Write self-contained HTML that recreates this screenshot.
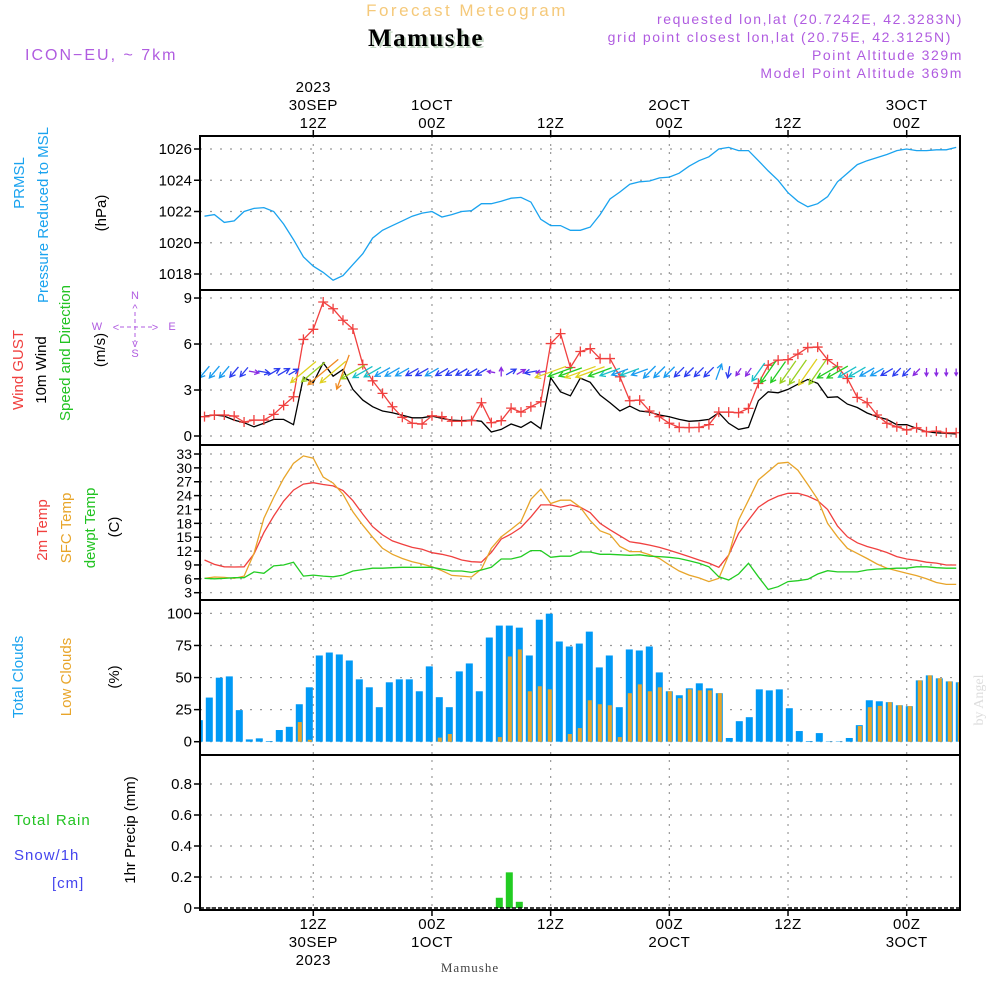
<!DOCTYPE html>
<html><head><meta charset="utf-8">
<style>
html,body{margin:0;padding:0;background:#fff;}
svg{display:block;font-family:"Liberation Sans",sans-serif;}
</style></head>
<body>
<svg id="chart" width="1000" height="1000" viewBox="0 0 1000 1000" xmlns="http://www.w3.org/2000/svg">
<rect width="1000" height="1000" fill="#fff"/>
<text x="467" y="16" text-anchor="middle" font-size="17" fill="#f5c97a" letter-spacing="2.5">Forecast Meteogram</text>
<text x="428" y="48" text-anchor="middle" font-size="25" font-weight="bold" font-family="Liberation Serif,serif" fill="#c5d8c5" letter-spacing="1.5">Mamushe</text>
<text x="426" y="46" text-anchor="middle" font-size="25" font-weight="bold" font-family="Liberation Serif,serif" fill="#000" letter-spacing="1.5">Mamushe</text>
<text x="25" y="60" font-size="16" fill="#b05ce0" letter-spacing="2">ICON−EU, ~ 7km</text>
<g font-size="14" fill="#b05ce0" text-anchor="end" letter-spacing="1.6">
<text x="963" y="24">requested lon,lat (20.7242E, 42.3283N)</text>
<text x="952" y="42">grid point closest lon,lat (20.75E, 42.3125N)</text>
<text x="963" y="60">Point Altitude 329m</text>
<text x="963" y="78">Model Point Altitude 369m</text>
</g>
<text transform="translate(983,700) rotate(-90)" text-anchor="middle" font-size="14" font-family="Liberation Serif,serif" fill="#ddd">by Angel</text>
<g id="labels" font-size="15"></g>
<g id="grid"></g>
<g id="marks"></g>
<g id="frame"></g>
</svg>
<script>
// ---- data (hourly, h = 1..77 hours after 00Z 30 SEP 2023) ----
const hours = Array.from({length:77},(_,i)=>i+1);
const pressure = [1021.7,1021.8,1021.3,1021.4,1022.0,1022.2,1022.25,1022.0,1021.2,1020.2,1019.1,1018.5,1018.1,1017.6,1017.9,1018.6,1019.3,1020.3,1020.8,1021.1,1021.4,1021.7,1021.9,1022.0,1021.65,1021.8,1022.0,1022.05,1022.5,1022.5,1022.65,1022.85,1022.9,1022.6,1021.5,1021.1,1021.1,1020.8,1020.8,1021.0,1021.8,1022.8,1023.25,1023.75,1023.9,1023.95,1024.15,1024.2,1024.45,1024.9,1025.25,1025.5,1026.0,1026.1,1025.9,1025.9,1025.25,1024.6,1024.0,1023.2,1022.65,1022.3,1022.5,1022.95,1023.9,1024.45,1025.0,1025.25,1025.45,1025.65,1025.9,1026.0,1025.9,1025.9,1025.95,1025.95,1026.1];
const gust = [1.26,1.37,1.37,1.3,0.91,1.04,1.04,1.41,2.0,2.56,6.3,6.96,8.74,8.3,7.55,6.98,4.66,3.6,2.78,1.91,1.22,0.83,0.78,1.32,1.26,0.96,0.96,1.0,2.17,0.87,1.0,1.82,1.56,1.91,2.23,6.03,6.68,4.47,5.51,5.7,5.05,5.05,3.86,2.3,2.34,1.63,1.26,0.83,0.56,0.55,0.56,0.74,1.56,1.56,1.52,1.8,3.43,4.62,4.95,4.98,5.34,5.77,5.8,4.98,4.51,3.75,2.52,2.17,1.37,0.83,0.6,0.39,0.54,0.28,0.32,0.21,0.21];
const wind10m = [1.3,1.37,1.3,1.04,0.87,0.6,0.83,1.08,1.08,0.74,3.82,3.49,4.77,3.9,4.34,3.04,2.34,1.91,1.63,1.52,1.35,1.19,1.19,1.3,1.15,1.04,1.0,1.04,0.96,0.26,0.43,0.78,0.56,0.93,0.48,3.8,2.88,2.62,3.78,3.5,2.67,2.17,1.63,1.95,1.63,1.56,1.37,1.26,1.08,0.96,1.0,1.08,1.52,0.83,0.43,0.56,2.3,2.88,2.82,3.04,3.38,3.69,3.43,2.52,2.56,2.08,1.86,1.5,1.26,1.08,0.74,0.74,0.5,0.28,0.21,0.17,0.13];
const windDir = [40,40,40,40,40,280,280,240,240,240,50,50,50,50,20,60,60,60,60,60,60,60,60,60,60,60,60,60,60,100,180,240,240,80,80,70,70,70,70,70,70,70,70,70,70,45,45,45,45,45,45,45,200,10,35,35,35,35,35,35,35,35,35,60,60,60,60,60,60,60,45,45,45,0,0,0,0];
const temp2m = [10.07,9.13,8.6,8.56,8.6,11.4,16,19.6,22.8,25.2,26.5,26.8,26.4,26.1,25.1,22.9,20,17.3,15.5,14.2,13.5,12.8,12.4,11.65,11.3,10.8,10.07,9.7,9.6,11.7,14.6,15.7,17.1,19.4,22,22,21.5,22,21.5,20.3,18,16.6,15.3,14.0,13.7,13.3,12.8,12.2,11.5,10.8,10.07,9.4,8.5,11.15,15.85,18.7,21.5,22.9,23.9,24.5,24.5,23.9,22.9,21.0,17.4,15.1,13.8,13.0,12.4,11.7,10.8,10.3,10.0,9.6,9.4,9.0,9.0];
const tempSfc = [6.1,6.4,6.3,6.1,6.6,11.5,19.1,23.6,27.7,31,32.6,32.1,28,26.7,24.3,20.5,17.6,15,12.6,11.3,10.4,9.7,9.2,8.6,7.75,6.75,6.6,6.4,8.1,12.6,15.1,16.7,18.4,23.2,25.4,22.3,23,23,21.5,18.6,16.4,15.6,13,11.9,11.9,11.2,10.4,9,7.7,6.8,6.2,5.4,6.1,11.15,18.7,23,27.4,29.2,31,31.2,29.5,26.4,23.2,18,15.1,12.6,11.5,10.4,9.2,8.3,7.75,7.2,6.7,6.0,5.2,4.8,4.8];
const dewpt = [6.1,6.0,6.1,6.25,6.25,7.5,7.2,8.8,9,9.6,6.6,6.8,6.6,6.45,6.8,7.7,8,8.3,8.3,8.4,8.5,8.5,8.5,8.5,8.1,7.7,7.7,7.4,7.9,8.5,10.3,10.3,10.8,12.1,12.1,10.65,10.9,10.9,11.8,11.8,11.3,11.3,11.2,11.1,11.2,10.9,10.8,10.65,10.4,9.9,9.35,8.6,6.45,5.75,7.05,9.35,6.45,3.7,4.3,5.4,5.6,5.9,7.05,7.75,7.5,7.5,7.5,7.9,8.1,8.2,8.3,8.3,8.6,8.6,8.4,8.3,8.3];
const totalClouds = [16.8,34.4,49.9,50.9,24.6,1.8,2.6,0.5,9.1,11.6,29.2,42.4,67.2,69.5,68,63.3,48.6,42.4,26.9,46.3,48.6,48.6,39.3,58.7,34.7,26.9,54.8,61,39.3,81.2,90.5,90.5,88.9,67.2,95.1,99.8,78.1,74.2,76.5,85.8,57.9,67.2,26.9,71.9,71.1,74.2,54,39.3,36.2,41.6,45.5,41.6,37.8,2.9,16,19.1,40.8,40,40.8,26.1,8.3,0.5,6.7,0.3,0.3,2.9,12.9,32.3,31.5,30.8,28.4,27.7,47.8,51.7,49.4,47,46.3];
const lowClouds = [0,0,0,0,0,0,0,0,0,0,15.3,1.5,0,0,0,0,0,0,0,0,0,0,0,0,3.2,6,0,0,0,0,3.6,66.4,71.9,39.3,43.2,40.8,0,6,10.6,32.3,29.2,28.4,3.6,37.8,44.7,39.3,42.4,39.3,33.9,40.8,40,40,37.8,0,0,0,0,0,0,0,0,0,0,0,0,0,12.2,26.9,27.9,30.8,28.4,27.7,47.8,51.7,49.4,47,46.3];
const precip = [0,0,0,0,0,0,0,0,0,0,0,0,0,0,0,0,0,0,0,0,0,0,0,0,0,0,0,0,0,0,0.066,0.23,0.04,0,0,0,0,0,0,0,0,0,0,0,0,0,0,0,0,0,0,0,0,0,0,0,0,0,0,0,0,0,0,0,0,0,0,0,0,0,0,0,0,0,0,0,0];
const timeTicks = [12,24,36,48,60,72];
const topLabels = [["2023","30SEP","12Z"],["","1OCT","00Z"],["","","12Z"],["","2OCT","00Z"],["","","12Z"],["","3OCT","00Z"]];
const bottomLabels = [["12Z","30SEP","2023"],["00Z","1OCT",""],["12Z","",""],["00Z","2OCT",""],["12Z","",""],["00Z","3OCT",""]];
const pTicks=[1018,1020,1022,1024,1026], wTicks=[0,3,6,9], tTicks=[3,6,9,12,15,18,21,24,27,30,33], cTicks=[0,25,50,75,100], rTicks=[0,0.2,0.4,0.6,0.8];
const rTickLabels=["0","0.2","0.4","0.6","0.8"];

// ---- scales ----
const L=200,R=960;
const x = h => 313.3 + (h-12)*9.89;
const xb = i => 199.3 + i*10;  // cloud/precip band centre for hour index
const yP = p => 149 + (1026-p)*15.625;
const yW = v => 436 - v*15.33;
const yT = t => 592.7 - (t-3)*4.623;
const yC = c => 741.7 - c*1.283;
const yR = r => 908 - r*155;
const panels=[[136,290],[290,445],[445,600],[600,755],[755,910]];

const NS="http://www.w3.org/2000/svg";
function mk(tag,parent,attrs){const e=document.createElementNS(NS,tag);for(const k in attrs)e.setAttribute(k,attrs[k]);parent.appendChild(e);return e;}
const G=document.getElementById('grid'),M=document.getElementById('marks'),F=document.getElementById('frame'),LB=document.getElementById('labels');

// clip
const defs=mk('defs',document.getElementById('chart'),{});
const cp=mk('clipPath',defs,{id:'plotclip'});
mk('rect',cp,{x:L,y:136,width:R-L,height:774});
M.setAttribute('clip-path','url(#plotclip)');

// vertical time grid
timeTicks.forEach(h=>{
  const l=mk('line',G,{x1:x(h),x2:x(h),y1:136,y2:910,stroke:'#999','stroke-dasharray':'2 6','stroke-width':1.2});
  
  
});
// y axes
function yaxis(ticks,scale,labels,name,dense){
  ticks.forEach((t,i)=>{
    const y=scale(t);
    const gl=mk('line',G,{x1:L,x2:R,y1:y,y2:y,stroke:'#999','stroke-dasharray':'2 8','stroke-width':1.2});
    
    
    mk('line',F,{x1:L-6,x2:L,y1:y,y2:y,stroke:'#000','stroke-width':1.5});
    const tx=mk('text',LB,{x:L-8,y:y+5,'text-anchor':'end','font-size':dense?14:15,fill:'#000'});
    tx.textContent=labels?labels[i]:String(t);
    
    
  });
}
yaxis(pTicks,yP,null,'pressure-axis');
yaxis(wTicks,yW,null,'wind-axis');
yaxis(tTicks,yT,null,'temp-axis',true);
yaxis(cTicks,yC,null,'cloud-axis');
yaxis(rTicks,yR,rTickLabels,'precip-axis');

// time labels
timeTicks.forEach((h,i)=>{
  mk('line',F,{x1:x(h),x2:x(h),y1:130,y2:136,stroke:'#000','stroke-width':1.5});
  mk('line',F,{x1:x(h),x2:x(h),y1:910,y2:916,stroke:'#000','stroke-width':1.5});
  topLabels[i].forEach((s,j)=>{ if(!s)return;
    const t=mk('text',LB,{x:x(h),y:92+j*18,'text-anchor':'middle',fill:'#000','letter-spacing':'0.5'});t.textContent=s;
    
    
  });
  bottomLabels[i].forEach((s,j)=>{ if(!s)return;
    const t=mk('text',LB,{x:x(h),y:929+j*18,'text-anchor':'middle',fill:'#000','letter-spacing':'0.5'});t.textContent=s;
    
    
  });
});
const bl=mk('text',LB,{x:470,y:972,'text-anchor':'middle','font-size':13,'font-family':'Liberation Serif,serif',fill:'#444','letter-spacing':'1'});bl.textContent='Mamushe';



// rotated axis titles
function vlabel(txt,cx,cy,color,name,size){
  const t=mk('text',LB,{transform:`translate(${cx},${cy}) rotate(-90)`,'text-anchor':'middle',fill:color,'font-size':size||15});
  t.textContent=txt;
  
  
}
vlabel('PRMSL',24,183,'#1aa3ef','prmsl-label');
vlabel('Pressure Reduced to MSL',48,215,'#1aa3ef','pressure-title');
vlabel('(hPa)',106,213,'#000','pressure-unit');
vlabel('Wind GUST',23,370,'#f0403f','gust-label');
vlabel('10m Wind',46,370,'#000','wind10m-label');
vlabel('Speed and Direction',70,353,'#22c322','wind-direction-label');
vlabel('(m/s)',105,350,'#000','wind-unit');
vlabel('2m Temp',47,530,'#f0403f','temp2m-label');
vlabel('SFC Temp',71,528,'#e8a52a','sfctemp-label');
vlabel('dewpt Temp',95,528,'#22c322','dewpt-label');
vlabel('(C)',119,527,'#000','temp-unit');
vlabel('Total Clouds',23,677,'#1aa3ef','total-clouds-label');
vlabel('Low Clouds',71,677,'#e8a52a','low-clouds-label');
vlabel('(%)',119,677,'#000','cloud-unit');
vlabel('1hr Precip (mm)',135,830,'#000','precip-title');
[['Total  Rain',14,825,'#22c322'],['Snow/1h',14,860,'#4444ee'],['[cm]',52,888,'#4444ee']].forEach(a=>{
  const t=mk('text',LB,{x:a[1],y:a[2],fill:a[3],'xml:space':'preserve','letter-spacing':'1'});t.textContent=a[0];
  
  
});
// compass
const cg=mk('g',LB,{fill:'#b05ce0','font-size':11,'text-anchor':'middle'});


[['N',135,299],['S',135,357],['W',97,330],['E',172,330],['^',135,312],['v',135,347],['<',116,331],['>',155,331]].forEach(a=>{const t=mk('text',cg,{x:a[1],y:a[2]});t.textContent=a[0];});
mk('line',cg,{x1:120,x2:152,y1:327,y2:327,stroke:'#b05ce0','stroke-dasharray':'4 3'});
mk('line',cg,{x1:135,x2:135,y1:312,y2:342,stroke:'#b05ce0','stroke-dasharray':'4 3'});

// series lines
function line(vals,scale,color,name,w){
  const d=vals.map((v,i)=>(i?'L':'M')+x(hours[i]).toFixed(1)+','+scale(v).toFixed(1)).join('');
  const p=mk('path',M,{d:d,fill:'none',stroke:color,'stroke-width':w||1.3});
  
  
  return p;
}
line(pressure,yP,'#1aa3ef','pressure-line');
line(wind10m,yW,'#000','wind10m-line');
line(gust,yW,'#f0403f','gust-line');
gust.forEach((v,i)=>{
  const cx=x(hours[i]),cy=yW(v);
  const g=mk('path',M,{d:`M${cx-5},${cy}h10M${cx},${cy-5}v10`,stroke:'#f0403f','stroke-width':1.3});
  
  
});
// wind arrows
function arrowColor(s){return s<0.7?'#8a2be2':s<1.2?'#2b3cf0':s<1.8?'#1a9cf0':s<2.5?'#19c0c8':s<3.0?'#22cc22':s<3.5?'#9ad020':s<4.0?'#e0d020':'#f08a20';}
windDir.forEach((d,i)=>{
  const s=wind10m[i],len=6+s*7,t=(d+180)*Math.PI/180;
  const ux=Math.sin(t),uy=-Math.cos(t);
  const cx=x(hours[i]),cy=372;
  const x1=cx-ux*len/2,y1=cy-uy*len/2,x2=cx+ux*len/2,y2=cy+uy*len/2;
  const a1=t+Math.PI-0.5,a2=t+Math.PI+0.5,hl=Math.min(6,len*0.5);
  const p=mk('path',M,{d:`M${x1},${y1}L${x2},${y2}M${x2+Math.sin(a1)*hl},${y2-Math.cos(a1)*hl}L${x2},${y2}L${x2+Math.sin(a2)*hl},${y2-Math.cos(a2)*hl}`,fill:'none',stroke:arrowColor(s),'stroke-width':1.3});
  
  
});
line(temp2m,yT,'#f0403f','temp2m-line');
line(tempSfc,yT,'#e8a52a','sfctemp-line');
line(dewpt,yT,'#22cc22','dewpt-line');
// cloud bars
totalClouds.forEach((v,i)=>{
  const b=mk('rect',M,{x:xb(i)-3.5,y:yC(v),width:7,height:Math.max(0,yC(0)-yC(v)),fill:'#0099f5'});
  
  
});
lowClouds.forEach((v,i)=>{ if(v<=0)return;
  const b=mk('rect',M,{x:xb(i)-1.5,y:yC(v),width:4,height:yC(0)-yC(v),fill:'#e8a52a'});
  
  
});
precip.forEach((v,i)=>{ if(v<=0)return;
  const b=mk('rect',M,{x:xb(i)-3.5,y:yR(v),width:7,height:yR(0)-yR(v),fill:'#22cc22'});
  
  
});
mk('line',M,{x1:L,x2:R,y1:yR(0),y2:yR(0),stroke:'#000','stroke-dasharray':'4 2','stroke-width':1.5});

// frames
panels.forEach(p=>{
  const r=mk('rect',F,{x:L,y:p[0],width:R-L,height:p[1]-p[0],fill:'none',stroke:'#000','stroke-width':2});
  
  
});
mk('rect',F,{x:L,y:136,width:R-L,height:774,fill:'none',stroke:'#000','stroke-width':1.5});
</script>
</body></html>
